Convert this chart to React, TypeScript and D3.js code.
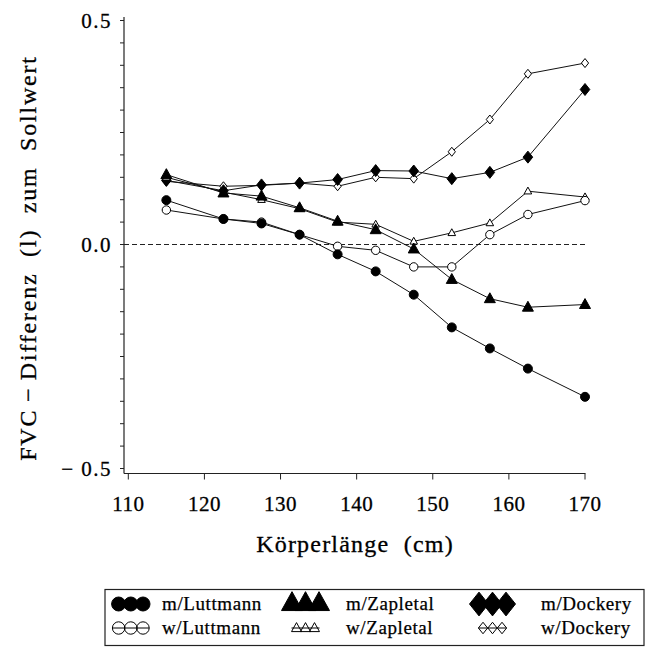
import React, { useEffect, useRef } from 'react';
import * as d3 from 'd3';

// Körperlänge (cm)
const heights = [115, 122.5, 127.5, 132.5, 137.5, 142.5, 147.5, 152.5, 157.5, 162.5, 170];

// FVC-Differenz (l) zum Sollwert
const mLuttmann = [0.099, 0.057, 0.047, 0.022, -0.022, -0.06, -0.112, -0.185, -0.232, -0.277, -0.34];
const wLuttmann = [0.077, 0.057, 0.05, 0.022, -0.004, -0.013, -0.05, -0.05, 0.022, 0.067, 0.098];
const mZapletal = [0.156, 0.115, 0.108, 0.082, 0.052, 0.033, -0.01, -0.078, -0.121, -0.14, -0.134];
const wZapletal = [0.15, 0.117, 0.1, 0.08, 0.05, 0.045, 0.007, 0.026, 0.048, 0.119, 0.106];
const mDockery = [0.143, 0.12, 0.133, 0.137, 0.145, 0.165, 0.164, 0.147, 0.161, 0.195, 0.346];
const wDockery = [0.141, 0.13, 0.132, 0.137, 0.13, 0.15, 0.147, 0.207, 0.279, 0.381, 0.405];

const seriesNames = ['m/Luttmann', 'w/Luttmann', 'm/Zapletal', 'w/Zapletal', 'm/Dockery', 'w/Dockery'];
const xTicks = [110, 120, 130, 140, 150, 160, 170];
const yLabelTicks = [-0.5, 0, 0.5];

const FONT = '"Liberation Serif", "Times New Roman", serif';

// marker shapes, centred on 0,0
function markerPath(shape: string, s: number) {
  if (shape === 'circle') return d3.symbol(d3.symbolCircle, Math.PI * s * s)();
  if (shape === 'triangle') {
    const h = s * 1.8;
    return `M0,${-h * 0.6}L${s},${h * 0.4}L${-s},${h * 0.4}Z`;
  }
  // diamond
  return `M0,${-s * 1.25}L${s},0L0,${s * 1.25}L${-s},0Z`;
}

export default function App() {
  const ref = useRef<SVGSVGElement>(null);

  useEffect(() => {
    const svg = d3.select(ref.current);
    svg.selectAll('*').remove();

    const x = d3.scaleLinear().domain([110, 170]).range([128.3, 585]);
    const y = d3.scaleLinear().domain([-0.5, 0.5]).range([468.5, 20.5]);

    const g = svg.append('g');

    // axes
    g.append('line').attr('x1', 124).attr('x2', 124).attr('y1', 17).attr('y2', 473.5)
      .attr('stroke', '#222').attr('stroke-width', 1.2);
    g.append('line').attr('x1', 124).attr('x2', 585.5).attr('y1', 473.5).attr('y2', 473.5)
      .attr('stroke', '#222').attr('stroke-width', 1.2);

    g.selectAll('.ytick')
      .data(d3.range(-10, 11).map(i => i * 0.05))
      .enter().append('line')
      .attr('x1', 120).attr('x2', 124)
      .attr('y1', d => y(d)).attr('y2', d => y(d))
      .attr('stroke', '#222');

    g.selectAll('.ylab')
      .data(yLabelTicks)
      .enter().append('text')
      .attr('x', 112).attr('y', d => y(d) + 7)
      .attr('text-anchor', 'end')
      .attr('font-family', FONT).attr('font-size', 21).attr('letter-spacing', 1.5)
      .attr('stroke', '#000').attr('stroke-width', 0.3)
      .style('white-space', 'pre')
      .text(d => (d < 0 ? '\u2212 ' : '') + Math.abs(d).toFixed(1));

    g.selectAll('.xtick')
      .data(xTicks)
      .enter().append('line')
      .attr('x1', d => x(d)).attr('x2', d => x(d))
      .attr('y1', 473.5).attr('y2', 479.5)
      .attr('stroke', '#222');

    g.selectAll('.xlab')
      .data(xTicks)
      .enter().append('text')
      .attr('x', d => x(d)).attr('y', 511)
      .attr('text-anchor', 'middle')
      .attr('font-family', FONT).attr('font-size', 21).attr('letter-spacing', 0.5)
      .attr('stroke', '#000').attr('stroke-width', 0.3)
      .text(d => d);

    // axis titles
    g.append('text')
      .attr('x', 355).attr('y', 552)
      .attr('text-anchor', 'middle')
      .attr('font-family', FONT).attr('font-size', 24).attr('letter-spacing', 1.2)
      .attr('stroke', '#000').attr('stroke-width', 0.3)
      .style('white-space', 'pre')
      .text('Körperlänge  (cm)');

    g.append('text')
      .attr('transform', 'translate(36,258) rotate(-90)')
      .attr('text-anchor', 'middle')
      .attr('font-family', FONT).attr('font-size', 24).attr('letter-spacing', 1.8)
      .attr('stroke', '#000').attr('stroke-width', 0.3)
      .style('white-space', 'pre')
      .text('FVC\u2009\u2212\u2009Differenz  (l)  zum  Sollwert');

    // zero reference line
    g.append('line').attr('x1', 124).attr('x2', 588).attr('y1', y(0)).attr('y2', y(0))
      .attr('stroke', '#222').attr('stroke-dasharray', '5,3');

    const series = [
      { values: wDockery, shape: 'diamond', filled: false, size: 3.6 },
      { values: mDockery, shape: 'diamond', filled: true, size: 4.8 },
      { values: wZapletal, shape: 'triangle', filled: false, size: 3.8 },
      { values: mZapletal, shape: 'triangle', filled: true, size: 5.5 },
      { values: wLuttmann, shape: 'circle', filled: false, size: 4.2 },
      { values: mLuttmann, shape: 'circle', filled: true, size: 4.5 },
    ];

    const line = d3.line<number>()
      .x((_, i) => x(heights[i]))
      .y(d => y(d));

    series.forEach(s => {
      g.append('path')
        .attr('d', line(s.values))
        .attr('fill', 'none')
        .attr('stroke', '#111')
        .attr('stroke-width', 1);
    });

    series.forEach(s => {
      g.selectAll(null)
        .data(s.values)
        .enter().append('path')
        .attr('transform', (d, i) => `translate(${x(heights[i])},${y(d)})`)
        .attr('d', markerPath(s.shape, s.size))
        .attr('fill', s.filled ? '#000' : '#fff')
        .attr('stroke', '#000')
        .attr('stroke-width', 1);
    });

    // legend
    const lg = svg.append('g');
    lg.append('rect')
      .attr('x', 105).attr('y', 589.5).attr('width', 539).attr('height', 56)
      .attr('fill', 'none').attr('stroke', '#222').attr('stroke-width', 1.2);

    const legendItems = [
      { name: seriesNames[0], shape: 'circle', filled: true, col: 0, row: 0 },
      { name: seriesNames[1], shape: 'circle', filled: false, col: 0, row: 1 },
      { name: seriesNames[2], shape: 'triangle', filled: true, col: 1, row: 0 },
      { name: seriesNames[3], shape: 'triangle', filled: false, col: 1, row: 1 },
      { name: seriesNames[4], shape: 'diamond', filled: true, col: 2, row: 0 },
      { name: seriesNames[5], shape: 'diamond', filled: false, col: 2, row: 1 },
    ];
    const symX = [130.8, 305.5, 492.5];
    const textX = [162, 346, 541];
    const rowY = [604, 628];
    const bigSize: Record<string, number> = { circle: 7, triangle: 10.5, diamond: 9.5 };
    const smallSize: Record<string, number> = { circle: 6.2, triangle: 5, diamond: 4.6 };
    const gap: Record<string, number> = { circle: 12.2, triangle: 13.5, diamond: 13.5 };
    const smallGap: Record<string, number> = { circle: 12.2, triangle: 9, diamond: 9.5 };

    legendItems.forEach(it => {
      const cx = symX[it.col];
      const cy = rowY[it.row];
      const sz = it.filled ? bigSize[it.shape] : smallSize[it.shape];
      const step = it.filled ? gap[it.shape] : smallGap[it.shape];
      if (!it.filled) {
        lg.append('line')
          .attr('x1', cx - step - sz).attr('x2', cx + step + sz)
          .attr('y1', cy).attr('y2', cy)
          .attr('stroke', '#000').attr('stroke-width', 1);
      }
      [-1, 0, 1].forEach(k => {
        lg.append('path')
          .attr('transform', `translate(${cx + k * step},${cy + (it.shape === 'triangle' && it.filled ? -1 : 0)})`)
          .attr('d', markerPath(it.shape, sz))
          .attr('fill', it.filled ? '#000' : 'none')
          .attr('stroke', '#000')
          .attr('stroke-width', 1);
      });
      lg.append('text')
        .attr('x', textX[it.col]).attr('y', cy + 6)
        .attr('font-family', FONT).attr('font-size', 19).attr('letter-spacing', 0.6)
        .attr('stroke', '#000').attr('stroke-width', 0.25)
        .text(it.name);
    });
  }, []);

  return (
    <svg ref={ref} width={647} height={647}
      style={{ position: 'absolute', left: 0, top: 0, background: '#fff' }} />
  );
}
